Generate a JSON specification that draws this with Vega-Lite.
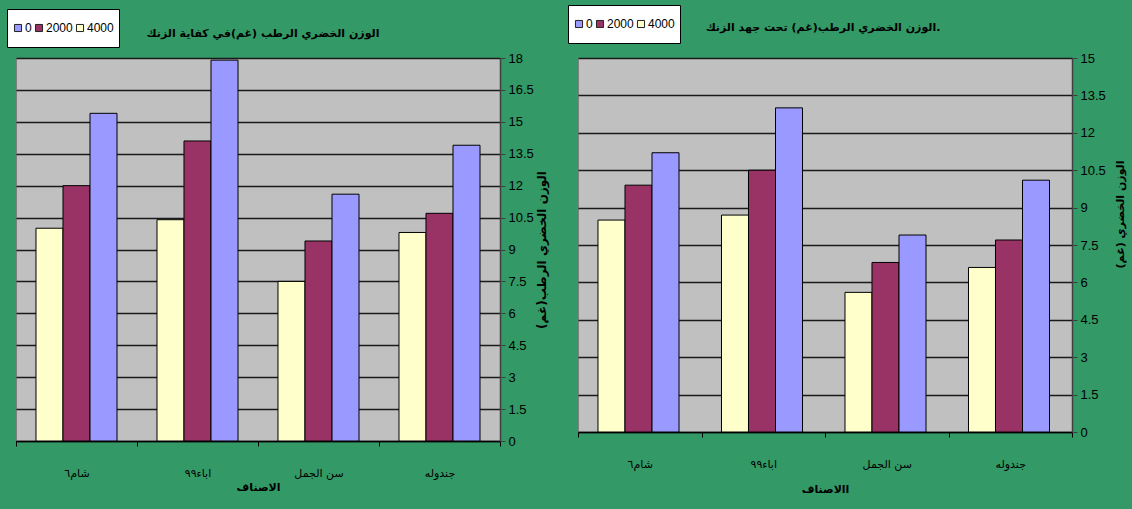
{
  "$schema": "https://vega.github.io/schema/vega-lite/v6.json",
  "background": "#339966",
  "padding": {"left": 6, "top": 4, "right": 10, "bottom": 16},
  "autosize": {"type": "pad"},
  "bounds": "flush",
  "spacing": 78,
  "datasets": {
    "zinc_sufficient": [
      {"variety": "شام٦", "zn": "4000", "weight": 10.0},
      {"variety": "شام٦", "zn": "2000", "weight": 12.0},
      {"variety": "شام٦", "zn": "0", "weight": 15.4},
      {"variety": "اباء٩٩", "zn": "4000", "weight": 10.4},
      {"variety": "اباء٩٩", "zn": "2000", "weight": 14.1},
      {"variety": "اباء٩٩", "zn": "0", "weight": 17.9},
      {"variety": "سن الجمل", "zn": "4000", "weight": 7.5},
      {"variety": "سن الجمل", "zn": "2000", "weight": 9.4},
      {"variety": "سن الجمل", "zn": "0", "weight": 11.6},
      {"variety": "جندوله", "zn": "4000", "weight": 9.8},
      {"variety": "جندوله", "zn": "2000", "weight": 10.7},
      {"variety": "جندوله", "zn": "0", "weight": 13.9}
    ],
    "zinc_stress": [
      {"variety": "شام٦", "zn": "4000", "weight": 8.5},
      {"variety": "شام٦", "zn": "2000", "weight": 9.9},
      {"variety": "شام٦", "zn": "0", "weight": 11.2},
      {"variety": "اباء٩٩", "zn": "4000", "weight": 8.7},
      {"variety": "اباء٩٩", "zn": "2000", "weight": 10.5},
      {"variety": "اباء٩٩", "zn": "0", "weight": 13.0},
      {"variety": "سن الجمل", "zn": "4000", "weight": 5.6},
      {"variety": "سن الجمل", "zn": "2000", "weight": 6.8},
      {"variety": "سن الجمل", "zn": "0", "weight": 7.9},
      {"variety": "جندوله", "zn": "4000", "weight": 6.6},
      {"variety": "جندوله", "zn": "2000", "weight": 7.7},
      {"variety": "جندوله", "zn": "0", "weight": 10.1}
    ]
  },
  "config": {
    "view": {"fill": "#C0C0C0", "stroke": "#808080", "strokeWidth": 1},
    "font": "DejaVu Sans",
    "title": {"color": "black", "fontSize": 11, "fontWeight": "bold", "font": "DejaVu Sans", "anchor": "middle"},
    "axisX": {
      "labelAngle": 0, "tickBand": "extent", "ticks": true, "tickSize": 5, "tickColor": "black",
      "domainColor": "black", "domainWidth": 1.5, "labelPadding": 21, "labelFontSize": 11,
      "labelColor": "black", "labelFont": "DejaVu Sans", "titleFont": "DejaVu Sans",
      "titleFontSize": 11, "titleFontWeight": "bold", "titleColor": "black", "grid": false
    },
    "axisY": {
      "grid": true, "gridColor": "#1a1a1a", "gridWidth": 1.5, "domainColor": "#404040", "domainWidth": 1.5,
      "tickColor": "#404040", "tickSize": 5, "labelPadding": 3, "labelColor": "black",
      "labelFont": "Liberation Sans, sans-serif", "labelFontSize": 13,
      "titleFont": "DejaVu Sans", "titleFontSize": 12, "titleFontWeight": "bold", "titleColor": "black",
      "titleAngle": 270, "titleBaseline": "middle", "titleAlign": "center", "format": ".3~g"
    },
    "legend": {
      "orient": "none", "direction": "horizontal", "fillColor": "white", "strokeColor": "black",
      "gridAlign": "each", "symbolType": "square", "symbolSize": 50, "symbolStrokeColor": "#222",
      "symbolStrokeWidth": 1, "labelFont": "Liberation Sans, sans-serif", "labelFontSize": 12,
      "labelColor": "black", "labelOffset": 1, "columnPadding": 1, "padding": 5, "clipHeight": 28
    }
  },
  "resolve": {"scale": {"color": "independent", "y": "independent"}, "legend": {"color": "independent"}},
  "hconcat": [
    {
      "width": 484,
      "height": 383,
      "title": {"text": "الوزن الخضري الرطب (غم)في كفاية الزنك", "dx": 5, "offset": -30.5},
      "data": {"name": "zinc_sufficient"},
      "mark": {"type": "bar", "stroke": "black", "strokeWidth": 1},
      "encoding": {
        "x": {
          "field": "variety", "type": "nominal",
          "sort": ["شام٦", "اباء٩٩", "سن الجمل", "جندوله"],
          "scale": {"paddingInner": 0, "paddingOuter": 0},
          "axis": {"title": "الاصناف", "titlePadding": 3}
        },
        "xOffset": {
          "field": "zn", "type": "nominal", "sort": ["4000", "2000", "0"],
          "scale": {"paddingInner": 0, "paddingOuter": 0.74}
        },
        "y": {
          "field": "weight", "type": "quantitative",
          "scale": {"domain": [0, 18], "nice": false},
          "axis": {
            "orient": "right", "values": [0, 1.5, 3, 4.5, 6, 7.5, 9, 10.5, 12, 13.5, 15, 16.5, 18],
            "title": "الوزن الخضري الرطب(غم)", "titleX": 41, "titleFontSize": 12
          }
        },
        "color": {
          "field": "zn", "type": "nominal",
          "scale": {"domain": ["0", "2000", "4000"], "range": ["#9999FF", "#993366", "#FFFFCC"]},
          "legend": {"title": null, "legendX": -9, "legendY": -49}
        }
      }
    },
    {
      "width": 494,
      "height": 374,
      "title": {"text": "الوزن الخضري الرطب(غم) تحت جهد الزنك.", "dx": -2, "offset": -28.5},
      "data": {"name": "zinc_stress"},
      "mark": {"type": "bar", "stroke": "black", "strokeWidth": 1},
      "encoding": {
        "x": {
          "field": "variety", "type": "nominal",
          "sort": ["شام٦", "اباء٩٩", "سن الجمل", "جندوله"],
          "scale": {"paddingInner": 0, "paddingOuter": 0},
          "axis": {"title": "االاصناف", "titlePadding": 14}
        },
        "xOffset": {
          "field": "zn", "type": "nominal", "sort": ["4000", "2000", "0"],
          "scale": {"paddingInner": 0, "paddingOuter": 0.74}
        },
        "y": {
          "field": "weight", "type": "quantitative",
          "scale": {"domain": [0, 15], "nice": false},
          "axis": {
            "orient": "right", "values": [0, 1.5, 3, 4.5, 6, 7.5, 9, 10.5, 12, 13.5, 15],
            "title": "الوزن الخضري (غم)", "titleX": 48, "titleY": 156, "titleFontSize": 11
          }
        },
        "color": {
          "field": "zn", "type": "nominal",
          "scale": {"domain": ["0", "2000", "4000"], "range": ["#9999FF", "#993366", "#FFFFCC"]},
          "legend": {"title": null, "legendX": -10, "legendY": -53}
        }
      }
    }
  ]
}
